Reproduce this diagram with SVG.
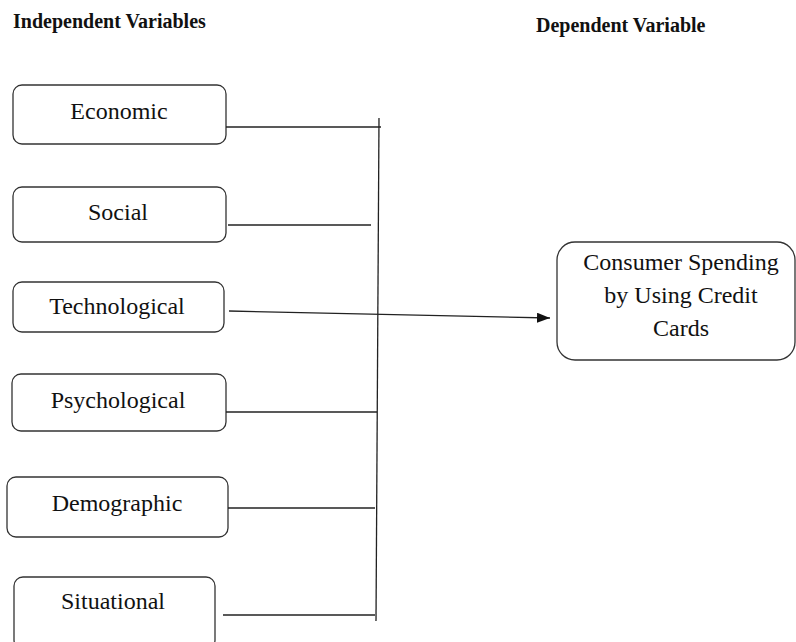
<svg xmlns="http://www.w3.org/2000/svg" width="796" height="642" viewBox="0 0 796 642">
<defs>
<marker id="arr" markerWidth="14" markerHeight="12" refX="13" refY="5" orient="auto" markerUnits="userSpaceOnUse">
<path d="M0,0 L13,5 L0,10 Z" fill="#111"/>
</marker>
<style>
.box{fill:#fff;stroke:#333;stroke-width:1.3}
.t{font-family:"Liberation Serif","Times New Roman",serif;font-size:24px;fill:#111;text-anchor:middle}
.h{font-family:"Liberation Serif","Times New Roman",serif;font-size:20px;font-weight:bold;fill:#111}
.c{stroke:#222;stroke-width:1.3;fill:none}
</style>
</defs>
<rect width="796" height="642" fill="#fff"/>
<text class="h" x="13" y="28">Independent Variables</text>
<text class="h" x="536" y="32">Dependent Variable</text>
<g id="economic"><rect class="box" x="13" y="85" width="213" height="59" rx="9"/><text class="t" x="119" y="119">Economic</text></g>
<g id="social"><rect class="box" x="13" y="187" width="213" height="55" rx="9"/><text class="t" x="118" y="220">Social</text></g>
<g id="technological"><rect class="box" x="13" y="282" width="211" height="50" rx="9"/><text class="t" x="117" y="314">Technological</text></g>
<g id="psychological"><rect class="box" x="12" y="374" width="214" height="57" rx="9"/><text class="t" x="118" y="408">Psychological</text></g>
<g id="demographic"><rect class="box" x="7" y="477" width="221" height="60" rx="9"/><text class="t" x="117" y="511">Demographic</text></g>
<g id="situational"><rect class="box" x="14" y="577" width="201" height="72" rx="9"/><text class="t" x="113" y="609">Situational</text></g>
<g id="consumer"><rect class="box" x="557" y="242" width="238" height="118" rx="18"/>
<text class="t" x="681" y="270">Consumer Spending</text>
<text class="t" x="681" y="303">by Using Credit</text>
<text class="t" x="681" y="336">Cards</text></g>
<g id="connectors">
<line class="c" x1="379" y1="118" x2="376" y2="621"/>
<line class="c" x1="226" y1="127" x2="381" y2="127"/>
<line class="c" x1="228" y1="225" x2="371" y2="225"/>
<line class="c" x1="229" y1="311" x2="550" y2="318" marker-end="url(#arr)"/>
<line class="c" x1="226" y1="412" x2="377" y2="412"/>
<line class="c" x1="228" y1="508" x2="375" y2="508"/>
<line class="c" x1="223" y1="615" x2="375" y2="615"/>
</g>
</svg>
